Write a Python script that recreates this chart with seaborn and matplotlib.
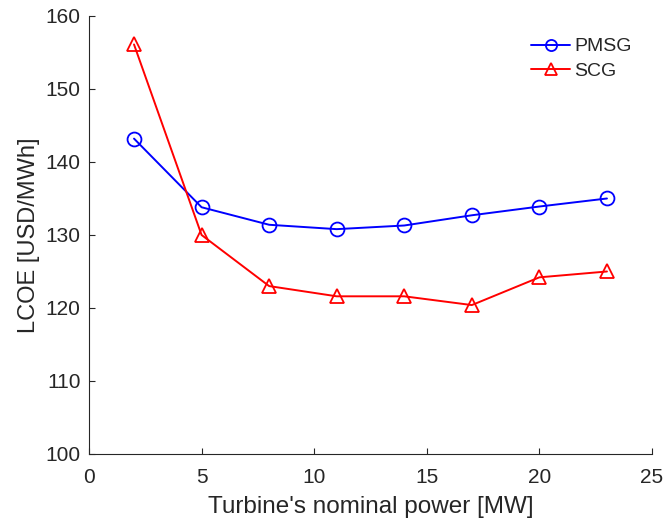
import numpy as np
import pandas as pd
import matplotlib.pyplot as plt
import seaborn as sns

# LCOE vs turbine rating
power_mw = [2, 5, 8, 11, 14, 17, 20, 23]
lcoe_pmsg = [143.2, 133.8, 131.4, 130.8, 131.3, 132.7, 133.9, 135.0]
lcoe_scg = [156.1, 130.0, 123.0, 121.6, 121.6, 120.4, 124.2, 125.0]

df = pd.DataFrame({'power': power_mw, 'PMSG': lcoe_pmsg, 'SCG': lcoe_scg})

sns.set_style("ticks")
plt.rcParams['font.family'] = ['Liberation Sans', 'DejaVu Sans']
plt.rcParams['xtick.direction'] = 'in'
plt.rcParams['ytick.direction'] = 'in'

fig = plt.figure(figsize=(6.67, 5.24), dpi=100)
ax = fig.add_axes([0.1334, 0.1336, 0.8441, 0.8359])

# one call per generator type so each keeps its own marker and colour
sns.lineplot(data=df, x='power', y='PMSG', ax=ax, color='#0000ff', marker='o',
             markersize=10, markerfacecolor='none', markeredgecolor='#0000ff',
             markeredgewidth=1.3, linewidth=1.4, label='PMSG')
sns.lineplot(data=df, x='power', y='SCG', ax=ax, color='#ff0000', marker='^',
             markersize=10, markerfacecolor='none', markeredgecolor='#ff0000',
             markeredgewidth=1.3, linewidth=1.4, label='SCG')

ax.set_xlim(0, 25)
ax.set_ylim(100, 160)
ax.set_xticks(np.arange(0, 26, 5))
ax.set_yticks(np.arange(100, 161, 10))
ax.tick_params(labelsize=15, length=4, width=0.8, colors='#262626')
ax.tick_params(axis='x', pad=10)
ax.tick_params(axis='y', pad=6)
ax.set_xlabel("Turbine's nominal power [MW]", fontsize=17.5, color='#262626', labelpad=6.5)
ax.set_ylabel('LCOE [USD/MWh]', fontsize=17, color='#262626', labelpad=4)
for s in ['left', 'bottom']:
    ax.spines[s].set_color('#262626')
    ax.spines[s].set_linewidth(0.8)
sns.despine(ax=ax)

ax.legend(loc='upper right', frameon=False, fontsize=14, handlelength=2.0,
          handletextpad=0.2, labelspacing=0.35, markerscale=0.8,
          bbox_to_anchor=(0.995, 0.99))

plt.savefig('out.png', dpi=100)
